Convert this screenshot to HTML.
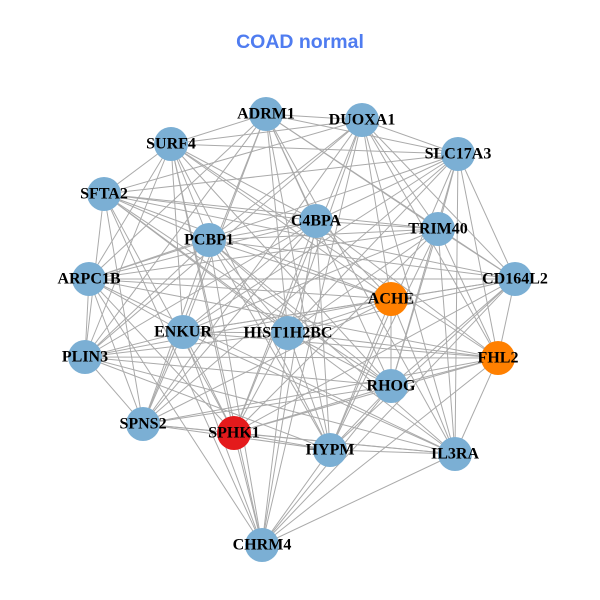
<!DOCTYPE html>
<html><head><meta charset="utf-8"><style>
body{margin:0;background:#fff}
svg{display:block}
text.l{font-family:"Liberation Serif",serif;font-weight:bold;font-size:16px;fill:#000;text-anchor:middle;dominant-baseline:central}
</style></head><body>
<svg id="s" width="600" height="600" viewBox="0 0 600 600">
<rect width="600" height="600" fill="#fff"/>
<g id="e" stroke="#aaaaaa" stroke-width="1"></g>
<g id="n"></g>
<text x="300" y="42" text-anchor="middle" dominant-baseline="central" font-family="Liberation Sans,sans-serif" font-weight="bold" font-size="19.5" fill="#4f7cf0">COAD normal</text>
<g id="t">
<text class="l" x="266" y="114">ADRM1</text>
<text class="l" x="362" y="120">DUOXA1</text>
<text class="l" x="171" y="144">SURF4</text>
<text class="l" x="458" y="154">SLC17A3</text>
<text class="l" x="104" y="194">SFTA2</text>
<text class="l" x="316" y="221">C4BPA</text>
<text class="l" x="438" y="229">TRIM40</text>
<text class="l" x="209" y="240">PCBP1</text>
<text class="l" x="89" y="279">ARPC1B</text>
<text class="l" x="515" y="279">CD164L2</text>
<text class="l" x="391" y="299">ACHE</text>
<text class="l" x="183" y="332">ENKUR</text>
<text class="l" x="288" y="333">HIST1H2BC</text>
<text class="l" x="85" y="357">PLIN3</text>
<text class="l" x="498" y="358">FHL2</text>
<text class="l" x="391" y="386">RHOG</text>
<text class="l" x="143" y="424">SPNS2</text>
<text class="l" x="234" y="433">SPHK1</text>
<text class="l" x="330" y="450">HYPM</text>
<text class="l" x="455" y="454">IL3RA</text>
<text class="l" x="262" y="545">CHRM4</text>
</g>
</svg>
<script>
var N=[[266,114,0],[362,120,0],[171,144,0],[458,154,0],[104,194,0],[316,221,0],[438,229,0],[209,240,0],[89,279,0],[515,279,0],[391,299,1],[183,332,0],[288,333,0],[85,357,0],[498,358,1],[391,386,0],[143,424,0],[234,433,2],[330,450,0],[455,454,0],[262,545,0]];
var C=["#7bafd4","#ff8000","#e41a1c"],ns="http://www.w3.org/2000/svg";
var e=document.getElementById("e"),g=document.getElementById("n");
for(var i=0;i<N.length;i++)for(var j=i+1;j<N.length;j++){
 if((i*7+j*13)%10<3)continue;
 var l=document.createElementNS(ns,"line");
 l.setAttribute("x1",N[i][0]);l.setAttribute("y1",N[i][1]);l.setAttribute("x2",N[j][0]);l.setAttribute("y2",N[j][1]);e.appendChild(l);}
N.forEach(function(p){var c=document.createElementNS(ns,"circle");c.setAttribute("cx",p[0]);c.setAttribute("cy",p[1]);c.setAttribute("r",17);c.setAttribute("fill",C[p[2]]);g.appendChild(c);});
</script>
</body></html>
